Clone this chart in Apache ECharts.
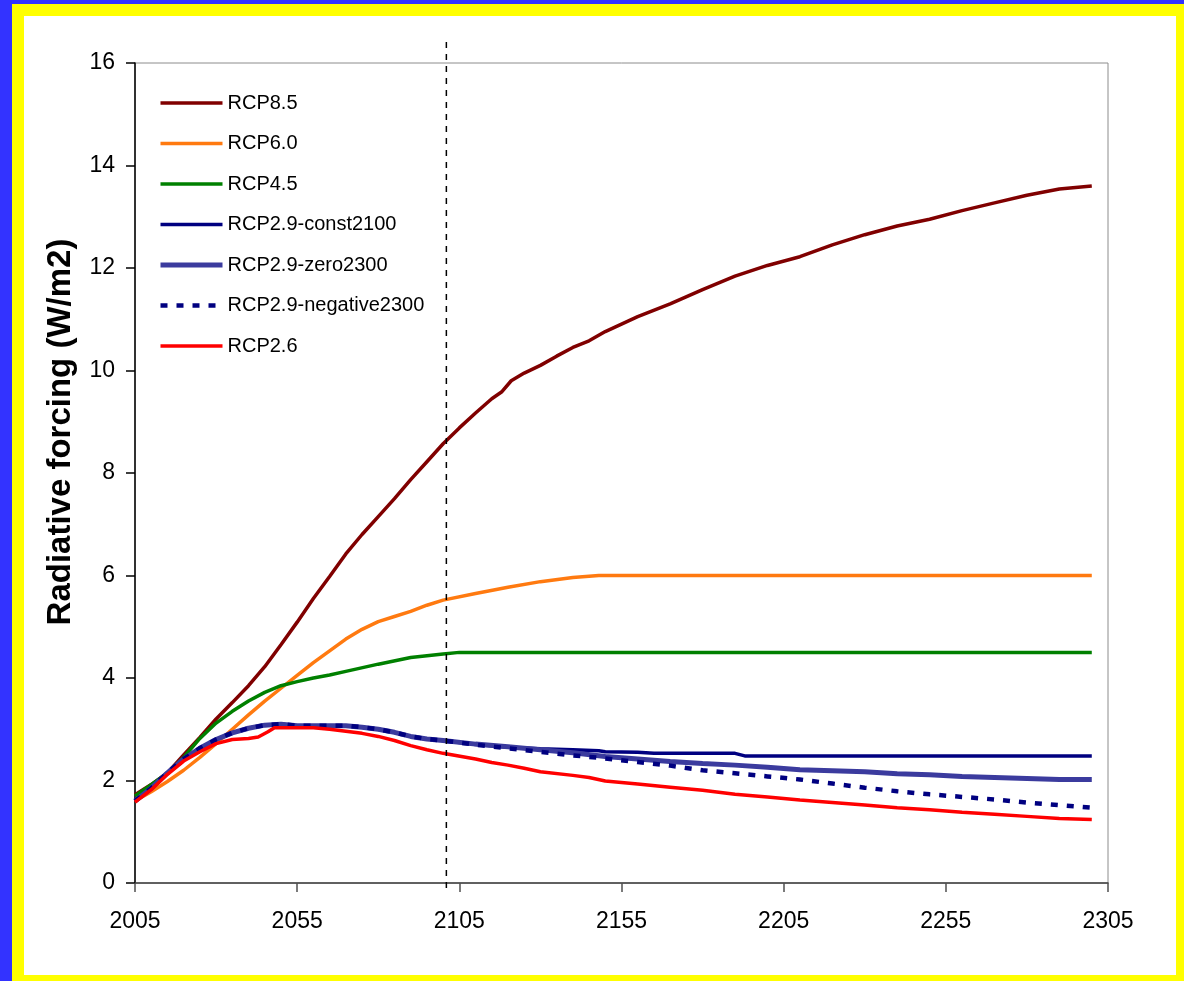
<!DOCTYPE html>
<html>
<head>
<meta charset="utf-8">
<script src="https://cdn.jsdelivr.net/npm/echarts@6/dist/echarts.min.js"></script>
<style>
  html, body { margin: 0; padding: 0; }
  body { width: 1184px; height: 981px; background: #3333ff; position: relative; overflow: hidden; }
  #frame { position: absolute; left: 12px; top: 4px; width: 1172px; height: 977px; background: #ffff00; }
  #panel { position: absolute; left: 24px; top: 16px; width: 1152px; height: 959px; background: #ffffff; }
  #chart { position: absolute; left: 0; top: 0; width: 1184px; height: 981px; }
</style>
</head>
<body>
<div id="frame"></div>
<div id="panel"></div>
<div id="chart"></div>
<script>
// Radiative forcing pathways (W/m2), 2005-2300
const xTickYears = [2005, 2055, 2105, 2155, 2205, 2255, 2305];
const yTicks = [0, 2, 4, 6, 8, 10, 12, 14, 16];
const dividerYear = 2101;

const rcp85Years = [2005, 2010, 2015, 2020, 2025, 2030, 2035, 2040, 2045, 2050, 2055, 2060, 2065, 2070, 2075, 2080, 2085, 2090, 2095, 2100, 2105, 2110, 2115, 2118, 2121, 2125, 2130, 2135, 2140, 2145, 2150, 2160, 2170, 2180, 2190, 2200, 2210, 2220, 2230, 2240, 2250, 2260, 2270, 2280, 2290, 2300];
const rcp85Values = [1.72, 1.92, 2.15, 2.5, 2.84, 3.2, 3.52, 3.85, 4.22, 4.65, 5.09, 5.55, 5.98, 6.42, 6.8, 7.15, 7.5, 7.87, 8.22, 8.57, 8.88, 9.17, 9.45, 9.58, 9.8, 9.95, 10.1, 10.28, 10.45, 10.58, 10.76, 11.05, 11.3, 11.58, 11.84, 12.05, 12.22, 12.45, 12.65, 12.82, 12.95, 13.12, 13.27, 13.42, 13.54, 13.6];

const rcp60Years = [2005, 2010, 2015, 2020, 2025, 2030, 2035, 2040, 2045, 2050, 2055, 2060, 2065, 2070, 2075, 2080, 2085, 2090, 2095, 2100, 2110, 2120, 2130, 2140, 2148, 2300];
const rcp60Values = [1.6, 1.78, 1.98, 2.2, 2.45, 2.72, 3.0, 3.28, 3.55, 3.8, 4.05, 4.3, 4.53, 4.76, 4.95, 5.1, 5.2, 5.3, 5.42, 5.52, 5.65, 5.77, 5.88, 5.96, 6.0, 6.0];

const rcp45Years = [2005, 2010, 2015, 2020, 2025, 2030, 2035, 2040, 2045, 2050, 2055, 2060, 2065, 2070, 2080, 2090, 2100, 2105, 2300];
const rcp45Values = [1.7, 1.92, 2.15, 2.45, 2.82, 3.12, 3.35, 3.55, 3.72, 3.85, 3.93, 4.0, 4.06, 4.13, 4.27, 4.4, 4.47, 4.5, 4.5];

// RCP2.9 variants share one path up to 2100
const rcp29SharedYears = [2005, 2010, 2015, 2020, 2025, 2030, 2035, 2040, 2045, 2050, 2055, 2060, 2065, 2070, 2075, 2080, 2085, 2090, 2095, 2100];
const rcp29SharedValues = [1.6, 1.85, 2.15, 2.42, 2.63, 2.8, 2.93, 3.02, 3.08, 3.1, 3.07, 3.07, 3.07, 3.07, 3.04, 3.0, 2.94, 2.86, 2.81, 2.78];

const const2100Years = [2110, 2120, 2130, 2140, 2148, 2150, 2160, 2165, 2190, 2193, 2300];
const const2100Values = [2.7, 2.65, 2.62, 2.6, 2.58, 2.56, 2.55, 2.53, 2.53, 2.48, 2.48];

const zero2300Years = [2110, 2120, 2130, 2140, 2150, 2160, 2170, 2180, 2190, 2200, 2210, 2220, 2230, 2240, 2250, 2260, 2270, 2280, 2290, 2300];
const zero2300Values = [2.71, 2.66, 2.6, 2.54, 2.47, 2.42, 2.37, 2.33, 2.3, 2.26, 2.21, 2.19, 2.17, 2.13, 2.11, 2.08, 2.06, 2.04, 2.02, 2.02];

const negative2300Years = [2110, 2120, 2130, 2140, 2150, 2160, 2170, 2180, 2190, 2200, 2210, 2220, 2230, 2240, 2250, 2260, 2270, 2280, 2290, 2300];
const negative2300Values = [2.7, 2.63, 2.56, 2.49, 2.43, 2.36, 2.29, 2.2, 2.14, 2.08, 2.02, 1.94, 1.86, 1.79, 1.73, 1.68, 1.63, 1.57, 1.52, 1.47];

const rcp26Years = [2005, 2010, 2015, 2020, 2025, 2030, 2035, 2040, 2043, 2046, 2048, 2055, 2060, 2065, 2070, 2075, 2080, 2085, 2090, 2095, 2100, 2110, 2115, 2120, 2125, 2130, 2140, 2145, 2150, 2160, 2170, 2180, 2190, 2200, 2210, 2220, 2230, 2240, 2250, 2260, 2270, 2280, 2290, 2300];
const rcp26Values = [1.58, 1.82, 2.12, 2.38, 2.56, 2.72, 2.8, 2.82, 2.85, 2.95, 3.03, 3.03, 3.03, 3.0, 2.96, 2.92, 2.86, 2.78, 2.68, 2.6, 2.53, 2.42, 2.35, 2.3, 2.24, 2.17, 2.1, 2.06, 1.99, 1.93, 1.87, 1.81, 1.73, 1.68, 1.62, 1.57, 1.52, 1.47, 1.43, 1.38, 1.34, 1.3, 1.26, 1.24];

function pairs(years, values) {
  return years.map((y, i) => [y, values[i]]);
}
const shared = pairs(rcp29SharedYears, rcp29SharedValues);

const FONT = 'Arial, "Liberation Sans", sans-serif';

function lineSeries(name, data, color, width, type) {
  return {
    name: name,
    type: 'line',
    data: data,
    symbol: 'none',
    smooth: false,
    clip: true,
    lineStyle: { color: color, width: width, type: type || 'solid', cap: 'butt' },
    itemStyle: { color: color },
    emphasis: { disabled: true },
    animation: false
  };
}

const chart = echarts.init(document.getElementById('chart'), null, { renderer: 'canvas' });

chart.setOption({
  backgroundColor: 'transparent',
  animation: false,
  grid: {
    left: 135, right: 76, top: 63, bottom: 98,
    show: true, borderColor: '#8c8c8c', borderWidth: 1, backgroundColor: 'transparent'
  },
  legend: {
    orient: 'vertical',
    left: 158,
    top: 93,
    padding: 0,
    itemWidth: 62,
    itemHeight: 20,
    itemGap: 20.5,
    itemStyle: { opacity: 0, borderWidth: 0 },
    lineStyle: { width: 'inherit', type: 'inherit' },
    textStyle: { fontFamily: FONT, fontSize: 20, color: '#000', lineHeight: 20 },
    selectedMode: false,
    data: ['RCP8.5', 'RCP6.0', 'RCP4.5', 'RCP2.9-const2100', 'RCP2.9-zero2300', 'RCP2.9-negative2300', 'RCP2.6']
  },
  xAxis: {
    type: 'value',
    min: xTickYears[0],
    max: xTickYears[xTickYears.length - 1],
    interval: xTickYears[1] - xTickYears[0],
    axisLine: { show: true, lineStyle: { color: '#404040', width: 1.5 } },
    axisTick: { show: true, inside: false, length: 9, lineStyle: { color: '#505050', width: 1.5 } },
    axisLabel: { fontFamily: FONT, fontSize: 23, color: '#000', margin: 27, formatter: v => String(v) },
    splitLine: { show: false }
  },
  yAxis: {
    type: 'value',
    min: yTicks[0],
    max: yTicks[yTicks.length - 1],
    interval: yTicks[1] - yTicks[0],
    name: 'Radiative forcing (W/m2)',
    nameLocation: 'middle',
    nameGap: 58,
    nameTextStyle: { fontFamily: FONT, fontSize: 33, fontWeight: 'bold', color: '#000', padding: [0, 0, 0, 82] },
    axisLine: { show: true, lineStyle: { color: '#000', width: 1.5 } },
    axisTick: { show: true, inside: false, length: 9, lineStyle: { color: '#000', width: 1.5 } },
    axisLabel: { fontFamily: FONT, fontSize: 23, color: '#000', margin: 20 },
    splitLine: { show: false }
  },
  series: [
    lineSeries('RCP8.5', pairs(rcp85Years, rcp85Values), '#800000', 3.5),
    lineSeries('RCP6.0', pairs(rcp60Years, rcp60Values), '#ff7a10', 3.5),
    lineSeries('RCP4.5', pairs(rcp45Years, rcp45Values), '#008000', 3.5),
    lineSeries('RCP2.9-const2100', shared.concat(pairs(const2100Years, const2100Values)), '#000080', 3.5),
    lineSeries('RCP2.9-zero2300', shared.concat(pairs(zero2300Years, zero2300Values)), '#3b3b9e', 5),
    lineSeries('RCP2.9-negative2300', shared.concat(pairs(negative2300Years, negative2300Values)), '#000080', 4.5, [7, 9]),
    lineSeries('RCP2.6', pairs(rcp26Years, rcp26Values), '#ff0000', 3.5)
  ]
});

// Dashed divider at the end of the century; it runs slightly past the plot frame
const gridRect = chart.getModel().getComponent('grid', 0).coordinateSystem.getRect();
const divX = chart.convertToPixel({ xAxisIndex: 0 }, dividerYear);
chart.setOption({
  graphic: [{
    type: 'line',
    silent: true,
    z: 10,
    shape: { x1: divX, y1: gridRect.y - 21, x2: divX, y2: gridRect.y + gridRect.height + 10 },
    style: { stroke: '#000', lineWidth: 1.5, lineDash: [6, 6] }
  }]
});
</script>
</body>
</html>
